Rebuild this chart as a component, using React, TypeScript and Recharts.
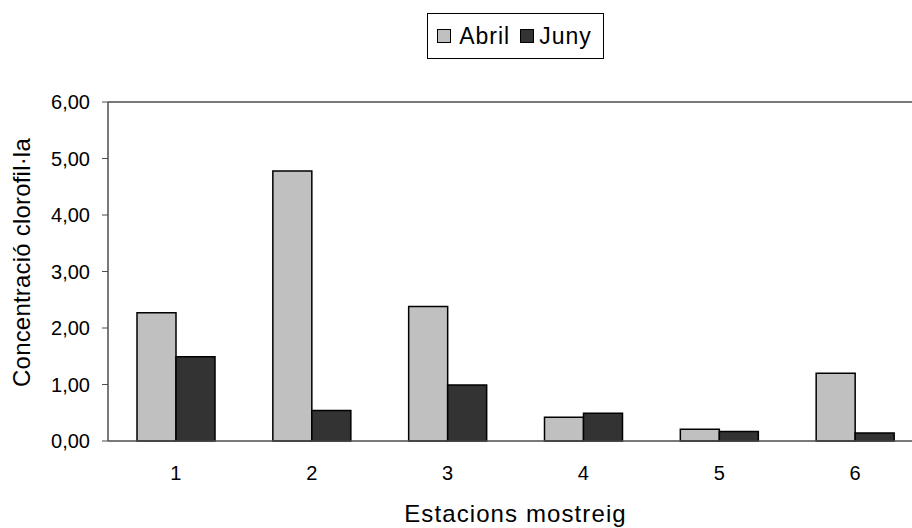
import { BarChart, Bar, XAxis, YAxis, Legend, ReferenceLine } from 'recharts';

const STATIONS = ['1', '2', '3', '4', '5', '6'];
const ABRIL = [2.27, 4.78, 2.38, 0.42, 0.21, 1.2];
const JUNY = [1.49, 0.54, 0.99, 0.49, 0.17, 0.14];
const Y_TICKS = [0, 1, 2, 3, 4, 5, 6];
const BOUND_TICKS = [0, 1, 2, 3, 4, 5, 6];

const SERIES = [
    { key: 'abril', name: 'Abril', fill: '#c0c0c0' },
    { key: 'juny', name: 'Juny', fill: '#333333' },
];

const data = STATIONS.map((s, i) => ({ name: s, abril: ABRIL[i], juny: JUNY[i] }));

const FONT = 'Arial, "Liberation Sans", sans-serif';
const AXIS_COLOR = '#4d4d4d';

const fmt = (v: number) => v.toFixed(2).replace('.', ',');

const LegendBox = () => (
    <div style={{ display: 'flex', justifyContent: 'center' }}>
        <div
            style={{
                display: 'flex',
                alignItems: 'center',
                border: '1px solid #000',
                height: 44,
                padding: '0 11px 0 9px',
                fontFamily: FONT,
                fontSize: 23,
                letterSpacing: 1,
                color: '#000',
                background: '#fff',
            }}
        >
            {SERIES.map((s, i) => (
                <div key={s.key} style={{ display: 'flex', alignItems: 'center', marginLeft: i ? 10 : 0 }}>
                    <span
                        style={{
                            display: 'inline-block',
                            width: 14,
                            height: 14,
                            boxSizing: 'border-box',
                            border: '1.5px solid #000',
                            background: s.fill,
                            marginRight: i ? 5 : 8,
                        }}
                    />
                    <span>{s.name}</span>
                </div>
            ))}
        </div>
    </div>
);

export default function App() {
    return (
        <div style={{ position: 'absolute', left: 0, top: 0, width: 912, height: 528, overflow: 'hidden', background: '#fff' }}>
            <BarChart
                width={930}
                height={528}
                data={data}
                margin={{ top: 102, right: 7, bottom: 27, left: 10 }}
                barCategoryGap={29}
                barGap={0}
            >
                <XAxis
                    xAxisId="bounds"
                    type="number"
                    domain={[0, 6]}
                    allowDataOverflow
                    ticks={BOUND_TICKS}
                    tick={false}
                    axisLine={false}
                    tickLine={{ stroke: AXIS_COLOR, strokeWidth: 1 }}
                    tickSize={6}
                    height={0}
                />
                <XAxis
                    xAxisId="cat"
                    dataKey="name"
                    tickLine={false}
                    tickSize={6}
                    tickMargin={19}
                    height={60}
                    axisLine={{ stroke: AXIS_COLOR, strokeWidth: 1.5 }}
                    tick={{ fill: '#000', fontSize: 20, fontFamily: FONT }}
                    label={({ viewBox }: any) => (
                        <text
                            x={viewBox.x + viewBox.width / 2}
                            y={522}
                            textAnchor="middle"
                            fontSize={24}
                            fontFamily={FONT}
                            letterSpacing={1.1}
                            fill="#000"
                        >
                            Estacions mostreig
                        </text>
                    )}
                />
                <YAxis
                    domain={[0, 6]}
                    ticks={Y_TICKS}
                    tickFormatter={fmt}
                    width={98}
                    tickSize={6}
                    tickMargin={12}
                    axisLine={{ stroke: AXIS_COLOR, strokeWidth: 1.5 }}
                    tickLine={{ stroke: AXIS_COLOR }}
                    tick={{ fill: '#000', fontSize: 20, fontFamily: FONT }}
                    label={({ viewBox }: any) => {
                        const x = 30;
                        const y = viewBox.y + viewBox.height / 2 - 9;
                        return (
                            <text
                                x={x}
                                y={y}
                                transform={`rotate(-90, ${x}, ${y})`}
                                textAnchor="middle"
                                fontSize={24}
                                fontFamily={FONT}
                                letterSpacing={0.2}
                                fill="#000"
                            >
                                Concentració clorofil·la
                            </text>
                        );
                    }}
                />
                <ReferenceLine xAxisId="cat" y={6} stroke={AXIS_COLOR} strokeWidth={1.5} />
                <Legend
                    verticalAlign="middle"
                    align="center"
                    content={<LegendBox />}
                    wrapperStyle={{ top: 13, left: 108, width: 815 }}
                />
                {SERIES.map((s) => (
                    <Bar
                        key={s.key}
                        xAxisId="cat"
                        dataKey={s.key}
                        name={s.name}
                        fill={s.fill}
                        stroke="#000"
                        strokeWidth={1.5}
                        isAnimationActive={false}
                    />
                ))}
            </BarChart>
        </div>
    );
}
